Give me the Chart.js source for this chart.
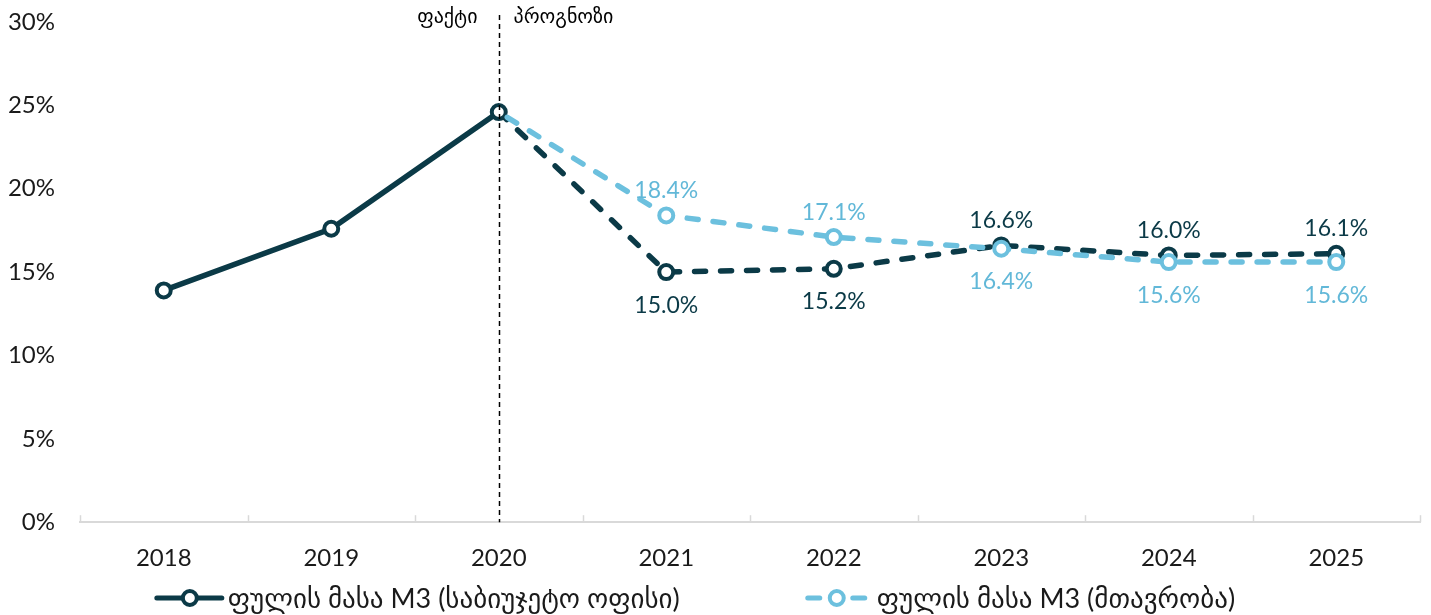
<!DOCTYPE html>
<html><head><meta charset="utf-8">
<script src="https://cdn.jsdelivr.net/npm/chart.js@4"></script>
<style>html,body{margin:0;padding:0;background:#fff}#wrap{width:1431px;height:615px}</style>
</head><body><div id="wrap"><canvas id="c"></canvas></div>
<script>
const categories = ['2018','2019','2020','2021','2022','2023','2024','2025'];
const seriesNames = ['ფულის მასა M3 (საბიუჯეტო ოფისი)', 'ფულის მასა M3 (მთავრობა)'];
const budgetOffice = [13.9, 17.6, 24.6, 15.0, 15.2, 16.6, 16.0, 16.1];
const government = [null, null, 24.6, 18.4, 17.1, 16.4, 15.6, 15.6];
const yTicks = [0, 5, 10, 15, 20, 25, 30];
const dividerLabels = ['ფაქტი', 'პროგნოზი'];
const forecastStartIndex = 2;

const DARK = '#0b3a47';
const LIGHT = '#6cc0de';
const TEXT = '#1a1a1a';
const FONT = 'Lato, "DejaVu Sans", sans-serif';

function drawLegendIcon(g, cx, cy, color, dashed) {
  g.save();
  g.strokeStyle = color; g.lineWidth = 5; g.lineCap = 'round';
  if (dashed) {
    g.beginPath(); g.moveTo(cx - 29, cy); g.lineTo(cx - 17, cy); g.stroke();
    g.beginPath(); g.moveTo(cx + 16, cy); g.lineTo(cx + 28, cy); g.stroke();
  } else {
    g.beginPath(); g.moveTo(cx - 33, cy); g.lineTo(cx + 32, cy); g.stroke();
  }
  g.beginPath(); g.arc(cx, cy, 7, 0, Math.PI * 2);
  g.fillStyle = '#fff'; g.fill(); g.lineWidth = 4; g.stroke();
  g.restore();
}

const extras = {
  id: 'extras',
  afterDatasetsDraw(chart) {
    const ctx = chart.ctx;
    const x = chart.scales.x;
    const ca = chart.chartArea;
    ctx.save();
    // inside tick marks on the category axis
    ctx.strokeStyle = '#d9d9d9'; ctx.lineWidth = 1.5;
    for (let i = 0; i <= categories.length; i++) {
      const px = Math.round(x.getPixelForDecimal(i / categories.length)) + 0.5;
      ctx.beginPath(); ctx.moveTo(px, ca.bottom); ctx.lineTo(px, ca.bottom - 7); ctx.stroke();
    }
    // fact / forecast divider
    const dx = Math.round(x.getPixelForValue(forecastStartIndex)) + 0.5;
    ctx.strokeStyle = '#000'; ctx.lineWidth = 1.5; ctx.setLineDash([5, 4]);
    ctx.beginPath(); ctx.moveTo(dx, 15); ctx.lineTo(dx, ca.bottom); ctx.stroke();
    ctx.setLineDash([]);
    ctx.fillStyle = '#000'; ctx.font = '20px ' + FONT; ctx.textBaseline = 'middle';
    ctx.textAlign = 'right'; ctx.fillText(dividerLabels[0], dx - 22, 17);
    ctx.textAlign = 'left'; ctx.fillText(dividerLabels[1], dx + 14, 17);
    // data labels
    ctx.font = '23px ' + FONT; ctx.textAlign = 'center';
    const sets = [budgetOffice, government];
    const colors = [DARK, '#62b8d8'];
    sets.forEach((vals, di) => {
      const meta = chart.getDatasetMeta(di);
      const other = sets[1 - di];
      ctx.fillStyle = colors[di];
      vals.forEach((v, i) => {
        if (v == null || i <= forecastStartIndex) return;
        const pt = meta.data[i];
        const above = v >= other[i];
        const ly = above ? pt.y - 25 : pt.y + 33;
        ctx.fillText(v.toFixed(1) + '%', pt.x, ly);
      });
    });
    // legend
    const legY = 598;
    ctx.font = '27px ' + FONT; ctx.fillStyle = TEXT; ctx.textAlign = 'left';
    const w0 = ctx.measureText(seriesNames[0]).width;
    const w1 = ctx.measureText(seriesNames[1]).width;
    const item0 = 68 + 4 + w0, item1 = 62 + 9 + w1, gap = 126;
    let lx = chart.width / 2 - 20 - (item0 + gap + item1) / 2;
    drawLegendIcon(ctx, lx + 34, legY, DARK, false);
    ctx.fillText(seriesNames[0], lx + 72, legY + 1);
    lx += item0 + gap;
    drawLegendIcon(ctx, lx + 31, legY, LIGHT, true);
    ctx.fillText(seriesNames[1], lx + 71, legY + 1);
    ctx.restore();
  }
};

new Chart(document.getElementById('c'), {
  type: 'line',
  data: {
    labels: categories,
    datasets: [
      {
        label: seriesNames[0], data: budgetOffice, borderColor: DARK, backgroundColor: '#fff',
        borderWidth: 5.5, pointRadius: 7, pointBorderWidth: 4, pointBackgroundColor: '#fff',
        pointBorderColor: DARK, pointHoverRadius: 7, order: 1, tension: 0,
        borderCapStyle: 'round',
        segment: { borderDash: c => c.p0DataIndex >= forecastStartIndex ? [11, 15] : undefined }
      },
      {
        label: seriesNames[1], data: government, borderColor: LIGHT, backgroundColor: '#fff',
        borderWidth: 5.5, pointBorderWidth: 4, pointBackgroundColor: '#fff',
        pointRadius: c => c.dataIndex <= forecastStartIndex ? 0 : 7,
        pointBorderColor: LIGHT, pointHoverRadius: 7, order: 0, tension: 0,
        borderCapStyle: 'round', borderDash: [11, 15], borderDashOffset: 16
      }
    ]
  },
  options: {
    responsive: true, maintainAspectRatio: false, animation: false,
    layout: { padding: { top: 22, right: 10, left: 0, bottom: 20 } },
    scales: {
      x: {
        offset: true,
        grid: { display: false, drawTicks: false },
        border: { display: true, color: '#d9d9d9', width: 2 },
        ticks: { color: TEXT, font: { size: 24, family: FONT }, padding: 22 }
      },
      y: {
        min: 0, max: 30, afterBuildTicks: s => { s.ticks = yTicks.map(v => ({ value: v })); },
        afterFit: s => { s.width = 80; },
        grid: { display: false, drawTicks: true, tickLength: 25 },
        border: { display: false },
        ticks: { color: TEXT, font: { size: 24, family: FONT }, padding: 0, callback: v => v + '%' }
      }
    },
    plugins: { tooltip: { enabled: false }, legend: { display: false } }
  },
  plugins: [extras]
});
</script>
</body></html>
